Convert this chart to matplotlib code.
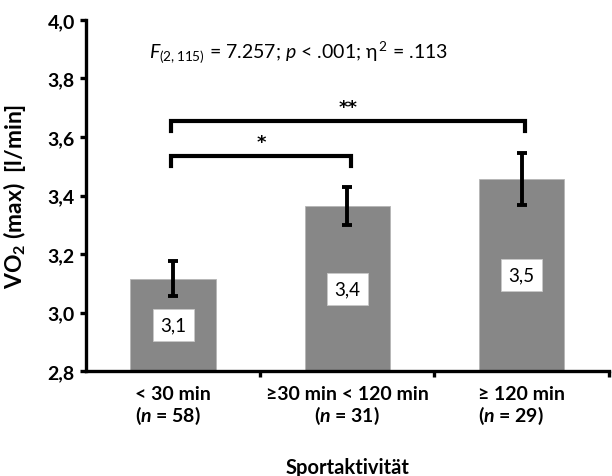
import numpy as np
import matplotlib
matplotlib.use("Agg")
import matplotlib.pyplot as plt

# data
groups = ["< 30 min", "≥30 min < 120 min", "≥ 120 min"]
n_per_group = [58, 31, 29]
vo2_mean = [3.115, 3.363, 3.456]
vo2_err = [0.06, 0.065, 0.09]
value_labels = ["3,1", "3,4", "3,5"]
y_ticks = [2.8, 3.0, 3.2, 3.4, 3.6, 3.8, 4.0]
y_ticklabels = ["2,8", "3,0", "3,2", "3,4", "3,6", "3,8", "4,0"]
# significance brackets: (from group, to group, height, mark)
brackets = [(0, 1, 3.536, "*"), (0, 2, 3.656, "**")]
stats_text = r"$F_{(2,115)}$ = 7.257; $p$ < .001; η$^{\,2}$ = .113"

plt.rcParams["font.family"] = ["Lato", "DejaVu Sans"]
plt.rcParams["mathtext.fontset"] = "custom"
plt.rcParams["mathtext.rm"] = "Lato"
plt.rcParams["mathtext.it"] = "Lato:italic"
plt.rcParams["mathtext.bf"] = "Lato:bold"
plt.rcParams["mathtext.bfit"] = "Lato:italic:bold"

BAR = "#878787"
fig = plt.figure(figsize=(6.12, 4.77), dpi=100)
ax = fig.add_axes([0.1405, 0.2201, 0.854, 0.7359])

x = np.arange(len(groups))
bars = ax.bar(x, np.array(vo2_mean) - 2.8, bottom=2.8, width=0.49, color=BAR,
              edgecolor="#b5b5b5", linewidth=0.6, zorder=2)
ax.errorbar(x, vo2_mean, yerr=vo2_err, fmt="none", ecolor="black",
            elinewidth=2.8, capsize=3.3, capthick=2.8, zorder=3)
ax.bar_label(bars, labels=value_labels, label_type="center", fontsize=13.5,
             bbox=dict(boxstyle="square,pad=0.4", fc="white", ec="#c8c8c8", lw=0.6))

# brackets
for a, b, h, mark in brackets:
    xa, xb = x[a] - 0.01, x[b] + 0.02
    ax.plot([xa, xa, xb, xb], [h - 0.034, h, h, h - 0.034], color="black",
            lw=3.0, solid_joinstyle="miter", clip_on=False, zorder=4)
    ax.text((xa + xb) / 2, h + 0.029, mark, ha="center", va="baseline",
            fontsize=13, fontweight="bold", family="DejaVu Sans")

ax.text(0.72, 3.89, stats_text, ha="center", va="center", fontsize=14)

ax.set_xlim(-0.5, 2.5)
ax.set_ylim(2.8, 4.0)
ax.set_yticks(y_ticks)
ax.set_yticklabels(y_ticklabels, fontsize=14, fontweight="bold")

xlabels = [f"{g}\n" + r"($\mathbfit{n}$" + f" = {n})" for g, n in zip(groups, n_per_group)]
ax.set_xticks(x)
ax.set_xticklabels(xlabels, fontsize=14, fontweight="bold", linespacing=1.1)
for lab, ma in zip(ax.get_xticklabels(), ["left", "center", "left"]):
    lab.set_multialignment(ma)
ax.set_xticks([0.5, 1.5, 2.5], minor=True)
ax.tick_params(axis="x", which="major", length=0, pad=10)
ax.tick_params(axis="x", which="minor", length=4, width=2.4, direction="out")
ax.tick_params(axis="y", length=4, width=2.4, direction="out", pad=4)

for s in ("top", "right"):
    ax.spines[s].set_visible(False)
for s in ("left", "bottom"):
    ax.spines[s].set_linewidth(2.4)

ax.set_ylabel("VO$_\\mathbf{2}$ (max)  [l/min]", fontsize=16.5, fontweight="bold")
ax.yaxis.set_label_coords(-0.111, 0.5)
ax.set_xlabel("Sportaktivität", fontsize=14.5, fontweight="bold")
ax.xaxis.set_label_coords(0.5, -0.245)

fig.savefig("out.png", dpi=100)
